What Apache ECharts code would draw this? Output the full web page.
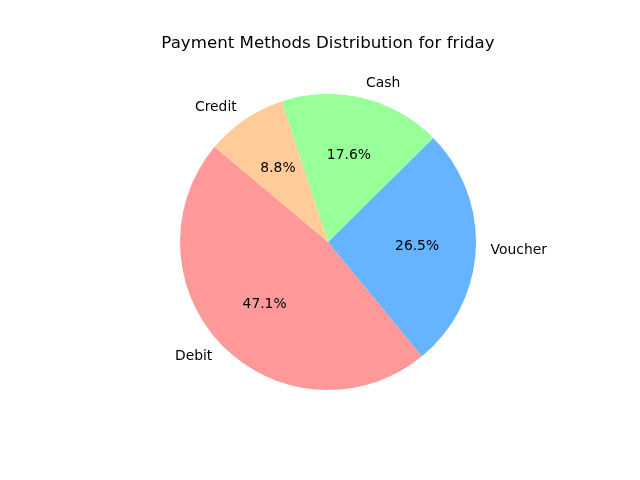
<!DOCTYPE html>
<html><head><meta charset="utf-8">
<script src="https://cdn.jsdelivr.net/npm/echarts@6/dist/echarts.min.js"></script>
<style>html,body{margin:0;padding:0;background:#fff}#c{width:640px;height:480px}</style>
</head><body><div id="c"></div>
<script>
const categories = ['Debit', 'Voucher', 'Cash', 'Credit'];
const values = [16, 9, 6, 3];
const colors = ['#ff9999', '#66b3ff', '#99ff99', '#ffcc99'];
const titleText = 'Payment Methods Distribution for friday';

const total = values.reduce((a, b) => a + b, 0);
const R = 148;
const cx = 328, cy = 242;
const font = 'DejaVu Sans';
const data = categories.map((c, i) => ({ name: c, value: values[i], itemStyle: { color: colors[i] } }));

const chart = echarts.init(document.getElementById('c'), null, { renderer: 'canvas' });
chart.setOption({
  animation: false,
  backgroundColor: '#ffffff',
  title: {
    text: titleText, left: cx - 5, top: 30, textAlign: 'center',
    textStyle: { fontFamily: font, fontSize: 16.67, fontWeight: 'normal', color: '#000' }
  },
  series: [
    {
      type: 'pie', center: [cx, cy], radius: [0, R], startAngle: 140, clockwise: false,
      data: data, silent: true, label: { show: false }, labelLine: { show: false },
      itemStyle: { borderWidth: 0 }
    },
    {
      type: 'pie', center: [cx, cy], radius: [0, R * 1.165], startAngle: 140, clockwise: false,
      data: data.map(d => ({ name: d.name, value: d.value, itemStyle: { color: 'rgba(0,0,0,0)' } })),
      silent: true, z: 5,
      label: {
        show: true, position: 'inside', fontFamily: font, fontSize: 13.89, color: '#000',
        padding: [2, 0, 0, 0],
        formatter: p => (p.value / total * 100).toFixed(1) + '%'
      },
      labelLine: { show: false }
    },
    {
      type: 'pie', center: [cx, cy], radius: [0, R * 1.1], startAngle: 140, clockwise: false,
      data: data.map(d => ({ name: d.name, value: d.value, itemStyle: { color: 'rgba(0,0,0,0)' } })),
      silent: true, z: 5, avoidLabelOverlap: false,
      label: {
        show: true, position: 'outside', fontFamily: font, fontSize: 13.89, color: '#000',
        distanceToLabelLine: 0, padding: [2, 0, 0, 0], formatter: '{b}'
      },
      labelLine: { show: false, length: 0, length2: 0 }
    }
  ]
});
</script></body></html>
